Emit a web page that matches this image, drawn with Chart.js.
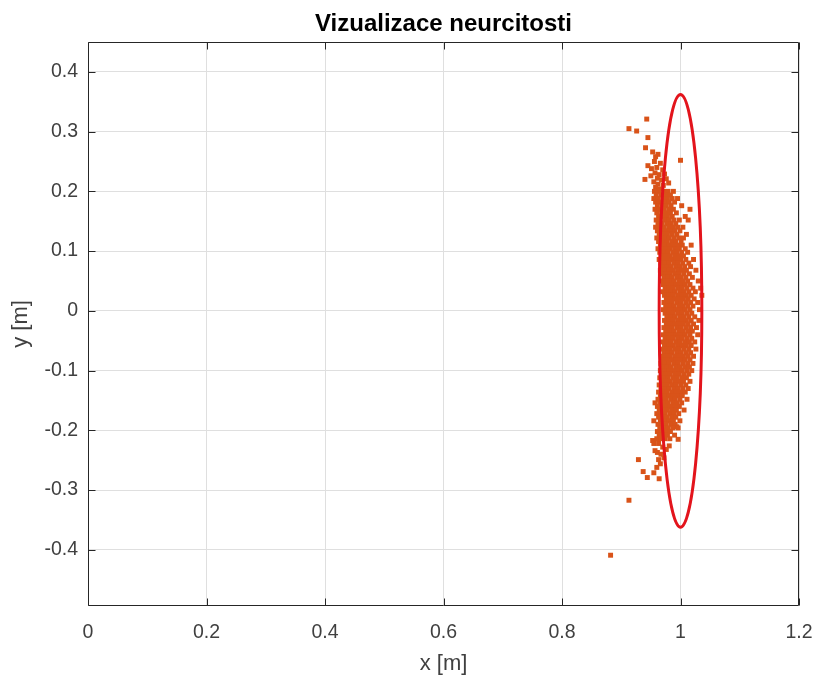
<!DOCTYPE html>
<html>
<head>
<meta charset="utf-8">
<script src="https://cdn.jsdelivr.net/npm/chart.js@4.4.0/dist/chart.umd.min.js"></script>
<style>
  html, body { margin: 0; padding: 0; background: #fff; }
</style>
</head>
<body>
<canvas id="neurcitost" width="821" height="675"></canvas>
<script>
// axis limits and ticks
const xRange = [0, 1.2];
const yRange = [-0.494, 0.45];
const xTicks = [0, 0.2, 0.4, 0.6, 0.8, 1, 1.2];
const xTickLabels = ['0', '0.2', '0.4', '0.6', '0.8', '1', '1.2'];
const yTicks = [-0.4, -0.3, -0.2, -0.1, 0, 0.1, 0.2, 0.3, 0.4];
const yTickLabels = ['-0.4', '-0.3', '-0.2', '-0.1', '0', '0.1', '0.2', '0.3', '0.4'];

// uncertainty ellipse (center, semi-axes)
const ellipseCenter = [1, 0];
const ellipseRadii = [0.036, 0.362];

// isolated samples [x, y]
const looseSamples = [
  [0.913, 0.305], [0.926, 0.301], [0.943, 0.321], [0.945, 0.290], [0.941, 0.273],
  [0.945, 0.243], [0.940, 0.220], [1.000, 0.252], [0.953, 0.266], [0.958, 0.258],
  [0.962, 0.262], [0.956, 0.250], [0.966, 0.247], [0.951, 0.238], [0.960, 0.240],
  [0.970, 0.236], [0.957, 0.231], [0.964, 0.228], [0.973, 0.229], [0.950, 0.226],
  [0.961, 0.222], [0.968, 0.219], [0.955, 0.216], [0.976, 0.221], [0.962, 0.212],
  [0.971, 0.210], [0.958, 0.207], [0.980, 0.214], [0.966, 0.204],
  [0.953, -0.217], [0.955, -0.222], [0.996, -0.215], [0.994, -0.194], [0.981, -0.226],
  [0.963, -0.222], [0.970, -0.228], [0.976, -0.232], [0.957, -0.234], [0.961, -0.237],
  [0.967, -0.240], [0.963, -0.249], [0.972, -0.246], [0.966, -0.256], [0.960, -0.262],
  [0.955, -0.271], [0.964, -0.281], [0.944, -0.279], [0.937, -0.269], [0.929, -0.249],
  [0.913, -0.317], [0.882, -0.409]
];

// dense core, one row per y value: [y, [x, x, ...]]
const coreRows = [
  [0.200, [0.956, 0.963, 0.972, 0.979, 0.988]],
  [0.194, [0.959, 0.967, 0.975, 0.983]],
  [0.188, [0.955, 0.962, 0.970, 0.978, 0.986, 0.995]],
  [0.182, [0.958, 0.966, 0.973, 0.981, 0.990]],
  [0.176, [0.961, 0.969, 0.976, 0.984, 1.002]],
  [0.170, [0.957, 0.964, 0.972, 0.980, 0.988, 1.016]],
  [0.164, [0.960, 0.968, 0.975, 0.983, 0.993]],
  [0.158, [0.963, 0.971, 0.978, 0.986, 1.008]],
  [0.152, [0.959, 0.966, 0.974, 0.981, 0.989, 0.998, 1.013]],
  [0.146, [0.962, 0.969, 0.977, 0.984, 0.992]],
  [0.140, [0.958, 0.965, 0.972, 0.980, 0.987, 0.995, 1.004]],
  [0.134, [0.961, 0.968, 0.975, 0.983, 0.990, 0.999]],
  [0.128, [0.964, 0.971, 0.978, 0.986, 0.994, 1.010]],
  [0.122, [0.960, 0.967, 0.974, 0.981, 0.989, 0.997, 1.005]],
  [0.116, [0.963, 0.970, 0.977, 0.985, 0.992, 1.001]],
  [0.110, [0.966, 0.973, 0.980, 0.988, 0.995, 1.003, 1.018]],
  [0.104, [0.962, 0.969, 0.976, 0.983, 0.991, 0.998, 1.008]],
  [0.098, [0.965, 0.972, 0.979, 0.987, 0.994, 1.002, 1.012]],
  [0.092, [0.968, 0.975, 0.982, 0.990, 0.997, 1.005]],
  [0.086, [0.964, 0.971, 0.978, 0.985, 0.993, 1.000, 1.009, 1.022]],
  [0.080, [0.967, 0.974, 0.981, 0.989, 0.996, 1.004, 1.014]],
  [0.074, [0.970, 0.977, 0.984, 0.992, 0.999, 1.007, 1.017]],
  [0.068, [0.966, 0.973, 0.980, 0.987, 0.995, 1.002, 1.010, 1.026]],
  [0.062, [0.969, 0.976, 0.983, 0.991, 0.998, 1.006, 1.015]],
  [0.056, [0.972, 0.979, 0.986, 0.994, 1.001, 1.009, 1.020]],
  [0.050, [0.968, 0.975, 0.982, 0.989, 0.997, 1.004, 1.012, 1.030]],
  [0.044, [0.971, 0.978, 0.985, 0.993, 1.000, 1.008, 1.016]],
  [0.038, [0.974, 0.981, 0.988, 0.996, 1.003, 1.011, 1.021, 1.034]],
  [0.032, [0.970, 0.977, 0.984, 0.991, 0.999, 1.006, 1.014, 1.025]],
  [0.026, [0.973, 0.980, 0.987, 0.995, 1.002, 1.010, 1.018, 1.036]],
  [0.020, [0.976, 0.983, 0.990, 0.998, 1.005, 1.013, 1.023]],
  [0.014, [0.972, 0.979, 0.986, 0.994, 1.001, 1.009, 1.017, 1.029]],
  [0.008, [0.975, 0.982, 0.989, 0.997, 1.004, 1.012, 1.021]],
  [0.002, [0.971, 0.978, 0.985, 0.993, 1.000, 1.008, 1.016, 1.032]],
  [-0.004, [0.974, 0.981, 0.988, 0.996, 1.003, 1.011, 1.019]],
  [-0.010, [0.977, 0.984, 0.991, 0.999, 1.006, 1.014, 1.024]],
  [-0.016, [0.973, 0.980, 0.987, 0.995, 1.002, 1.010, 1.018, 1.031]],
  [-0.022, [0.976, 0.983, 0.990, 0.998, 1.005, 1.013, 1.022]],
  [-0.028, [0.972, 0.979, 0.986, 0.994, 1.001, 1.009, 1.017, 1.027]],
  [-0.034, [0.975, 0.982, 0.989, 0.997, 1.004, 1.012, 1.020]],
  [-0.040, [0.971, 0.978, 0.985, 0.993, 1.000, 1.008, 1.016, 1.029]],
  [-0.046, [0.974, 0.981, 0.988, 0.996, 1.003, 1.011, 1.019]],
  [-0.052, [0.970, 0.977, 0.984, 0.992, 0.999, 1.007, 1.015, 1.024]],
  [-0.058, [0.973, 0.980, 0.987, 0.995, 1.002, 1.010, 1.018]],
  [-0.064, [0.969, 0.976, 0.983, 0.991, 0.998, 1.006, 1.014, 1.026]],
  [-0.070, [0.972, 0.979, 0.986, 0.994, 1.001, 1.009, 1.017]],
  [-0.076, [0.968, 0.975, 0.982, 0.990, 0.997, 1.005, 1.013, 1.022]],
  [-0.082, [0.971, 0.978, 0.985, 0.993, 1.000, 1.008, 1.016]],
  [-0.088, [0.967, 0.974, 0.981, 0.989, 0.996, 1.004, 1.012, 1.021]],
  [-0.094, [0.970, 0.977, 0.984, 0.992, 0.999, 1.007, 1.015]],
  [-0.100, [0.966, 0.973, 0.980, 0.988, 0.995, 1.003, 1.011, 1.019]],
  [-0.106, [0.969, 0.976, 0.983, 0.991, 0.998, 1.006, 1.014]],
  [-0.112, [0.965, 0.972, 0.979, 0.987, 0.994, 1.002, 1.010]],
  [-0.118, [0.968, 0.975, 0.982, 0.990, 0.997, 1.005, 1.016]],
  [-0.124, [0.964, 0.971, 0.978, 0.986, 0.993, 1.001, 1.009]],
  [-0.130, [0.967, 0.974, 0.981, 0.989, 0.996, 1.004, 1.013]],
  [-0.136, [0.963, 0.970, 0.977, 0.985, 0.992, 1.000, 1.008]],
  [-0.142, [0.966, 0.973, 0.980, 0.988, 0.995, 1.003]],
  [-0.148, [0.962, 0.969, 0.976, 0.984, 0.991, 0.999, 1.011]],
  [-0.154, [0.957, 0.965, 0.972, 0.979, 0.987, 0.994, 1.002]],
  [-0.160, [0.961, 0.968, 0.975, 0.983, 0.990, 0.998]],
  [-0.166, [0.964, 0.971, 0.978, 0.986, 0.993, 1.006]],
  [-0.172, [0.960, 0.967, 0.974, 0.982, 0.989, 0.997]],
  [-0.178, [0.963, 0.970, 0.977, 0.985, 0.992]],
  [-0.184, [0.955, 0.966, 0.973, 0.980, 0.988, 0.999]],
  [-0.190, [0.962, 0.969, 0.976, 0.984, 0.991]],
  [-0.196, [0.965, 0.972, 0.979, 0.987, 0.996]],
  [-0.202, [0.961, 0.968, 0.975, 0.983]],
  [-0.208, [0.964, 0.971, 0.978, 0.990]],
  [-0.214, [0.960, 0.967, 0.974, 0.982]]
];

const samples = looseSamples.map(p => ({x: p[0], y: p[1]}));
coreRows.forEach(row => row[1].forEach(x => samples.push({x: x, y: row[0]})));

const FONT = '"Liberation Sans", Arial, Helvetica, sans-serif';
const AXIS_COLOR = '#262626';

// MATLAB-like box, inward ticks, title and ellipse
const matlabAxes = {
  id: 'matlabAxes',
  afterDatasetsDraw(chart) {
    const {ctx, chartArea: a, scales: {x, y}} = chart;
    const cx = x.getPixelForValue(ellipseCenter[0]);
    const cy = y.getPixelForValue(ellipseCenter[1]);
    const rx = Math.abs(x.getPixelForValue(ellipseCenter[0] + ellipseRadii[0]) - cx);
    const ry = Math.abs(y.getPixelForValue(ellipseCenter[1] + ellipseRadii[1]) - cy);
    ctx.save();
    ctx.beginPath();
    ctx.rect(a.left, a.top, a.right - a.left, a.bottom - a.top);
    ctx.clip();
    ctx.beginPath();
    ctx.ellipse(cx, cy, rx, ry, 0, 0, Math.PI * 2);
    ctx.strokeStyle = '#e3141c';
    ctx.lineWidth = 3;
    ctx.stroke();
    ctx.restore();
  },
  afterDraw(chart) {
    const {ctx, chartArea: a, scales: {x, y}} = chart;
    const L = a.left + 0.5, R = a.right - 0.5, T = a.top + 0.5, B = a.bottom - 0.5;
    const tl = 7;
    ctx.save();
    ctx.strokeStyle = AXIS_COLOR;
    ctx.lineWidth = 1;
    ctx.beginPath();
    ctx.rect(L, T, R - L, B - T);
    xTicks.forEach(v => {
      const px = Math.round(x.getPixelForValue(v)) + 0.5;
      ctx.moveTo(px, B); ctx.lineTo(px, B - tl);
      ctx.moveTo(px, T); ctx.lineTo(px, T + tl);
    });
    yTicks.forEach(v => {
      const py = Math.round(y.getPixelForValue(v)) + 0.5;
      ctx.moveTo(L, py); ctx.lineTo(L + tl, py);
      ctx.moveTo(R, py); ctx.lineTo(R - tl, py);
    });
    ctx.stroke();

    ctx.fillStyle = '#000';
    ctx.font = 'bold 24px ' + FONT;
    ctx.textAlign = 'center';
    ctx.textBaseline = 'middle';
    ctx.fillText('Vizualizace neurcitosti', (a.left + a.right) / 2, 24);
    ctx.restore();
  }
};

const ctx = document.getElementById('neurcitost').getContext('2d');
const neurcitostChart = new Chart(ctx, {
  type: 'scatter',
  data: {
    datasets: [{
      data: samples,
      backgroundColor: '#d95319',
      borderWidth: 0,
      pointStyle: 'rect',
      pointRadius: 3.5,
      pointHoverRadius: 3.5
    }]
  },
  options: {
    responsive: false,
    animation: false,
    events: [],
    layout: { padding: { top: 42, right: 22, left: 0, bottom: 0 } },
    plugins: {
      legend: { display: false },
      tooltip: { enabled: false },
      title: { display: false }
    },
    scales: {
      x: {
        type: 'linear',
        min: xRange[0],
        max: xRange[1],
        afterBuildTicks: s => { s.ticks = xTicks.map(v => ({value: v})); },
        afterFit: s => { s.height = 69; s.paddingRight = 0; s.paddingLeft = 0; },
        ticks: {
          callback: (v, i) => xTickLabels[i],
          color: '#404040',
          font: { family: FONT, size: 19.5 },
          padding: 15,
          maxRotation: 0
        },
        grid: { color: '#dfdfdf', drawTicks: false },
        border: { display: false },
        title: {
          display: true,
          text: 'x [m]',
          color: '#404040',
          font: { family: FONT, size: 22, lineHeight: 1 },
          padding: { top: 0, bottom: 0 }
        }
      },
      y: {
        type: 'linear',
        min: yRange[0],
        max: yRange[1],
        afterBuildTicks: s => { s.ticks = yTicks.map(v => ({value: v})); },
        afterFit: s => { s.width = 88; },
        ticks: {
          callback: (v, i) => yTickLabels[i],
          color: '#404040',
          font: { family: FONT, size: 19.5 },
          padding: 10
        },
        grid: { color: '#dfdfdf', drawTicks: false },
        border: { display: false },
        title: {
          display: true,
          text: 'y [m]',
          color: '#404040',
          font: { family: FONT, size: 22, lineHeight: 1 },
          padding: { top: 10, bottom: 0 }
        }
      }
    }
  },
  plugins: [matlabAxes]
});
</script>
</body>
</html>
